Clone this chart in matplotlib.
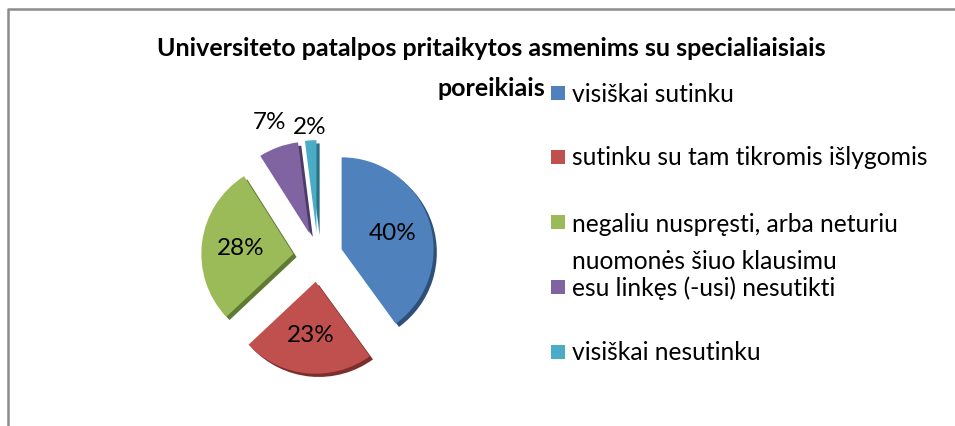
import matplotlib
matplotlib.use("Agg")
import matplotlib.pyplot as plt
import numpy as np
from matplotlib.lines import Line2D
from matplotlib.patches import Rectangle

categories = [
    "visiškai sutinku",
    "sutinku su tam tikromis išlygomis",
    "negaliu nuspręsti, arba neturiu\nnuomonės šiuo klausimu",
    "esu linkęs (-usi) nesutikti",
    "visiškai nesutinku",
]
values = [40, 23, 28, 7, 2]
colors = ["#4F81BD", "#C0504D", "#9BBB59", "#8064A2", "#4BACC6"]
dark = ["#2D4F78", "#7A2F2D", "#5F7A33", "#4D3A66", "#2A7186"]
title_lines = ["Universiteto patalpos pritaikytos asmenims su specialiaisiais",
               "poreikiais"]

W, H = 955, 427
plt.rcParams['font.family'] = ['Lato', 'DejaVu Sans']
fig = plt.figure(figsize=(W / 100, H / 100), dpi=100)
fig.patch.set_facecolor("white")

# pie centre (318, 258) px from top-left, radius ~92 px
cx, cy, r, half = 318, 258, 92, 150
ax = fig.add_axes([(cx - half) / W, (H - cy - half) / H, 2 * half / W, 2 * half / H])

explode = [0.27] * len(values)

# darker copy a few pixels down-right gives the bevel look
ax.pie(values, colors=dark, explode=explode, startangle=90, counterclock=False,
       center=(0.035, -0.035), frame=True)
wedges, texts, autotexts = ax.pie(
    values, colors=colors, explode=explode, startangle=90, counterclock=False,
    autopct="%d%%", pctdistance=0.58, frame=True,
    textprops=dict(fontsize=17.5, color="black"))
ax.set_xlim(-half / r, half / r)
ax.set_ylim(-half / r, half / r)
ax.set_aspect("equal")
ax.axis("off")

# small slices get their labels outside
outer = iter([1.3, 1.15])
for v, w, t in zip(values, wedges, autotexts):
    if v < 10:
        ang = np.deg2rad((w.theta1 + w.theta2) / 2)
        d = 0.27 + next(outer)
        t.set_position((d * np.cos(ang), d * np.sin(ang)))

# title wrapped the way Excel did it
for line, y in zip(title_lines, [48, 88]):
    fig.text(491 / W, 1 - y / H, line, ha="center", va="center", fontsize=18,
             fontweight="bold")

# legend
leg_y = [94, 158, 240, 288, 353]
for lab, col, y in zip(categories, colors, leg_y):
    sq_y = 223 if "\n" in lab else y
    fig.add_artist(Rectangle((551 / W, 1 - (sq_y + 7) / H), 14 / W, 14 / H,
                             transform=fig.transFigure, facecolor=col, edgecolor="none"))
    fig.text(572 / W, 1 - (y + 3 * ("\n" in lab)) / H, lab, ha="left", va="center",
             fontsize=17.7, linespacing=1.75)

# chart border (left and top edges visible)
fig.add_artist(Line2D([7.5 / W, 7.5 / W, 1], [0, 1 - 10 / H, 1 - 10 / H],
                      transform=fig.transFigure, color="#8C8C8C", linewidth=1.8))

fig.savefig("out.png", dpi=100)
